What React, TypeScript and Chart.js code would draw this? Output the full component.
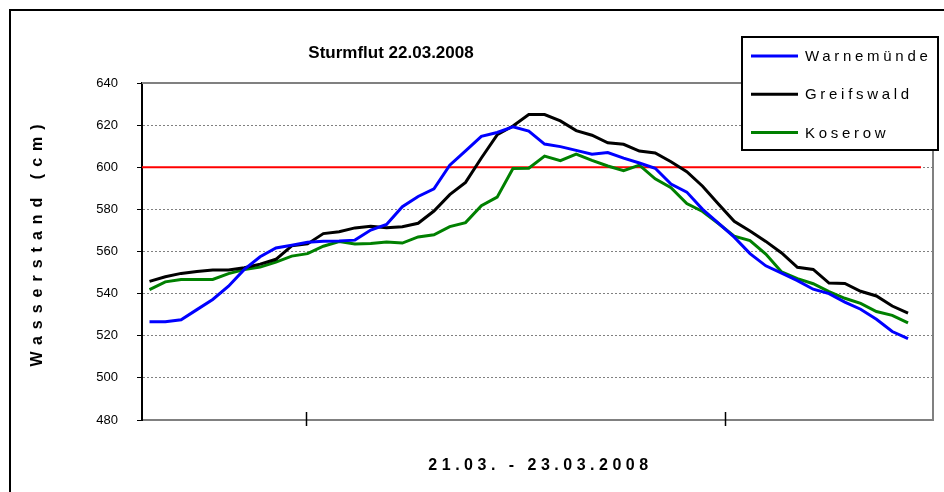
import React, { useEffect, useRef } from 'react';
import { Chart, registerables } from 'chart.js';

Chart.register(...registerables);

const FONT = '"Liberation Sans", Arial, Helvetica, sans-serif';

const TITLE = 'Sturmflut 22.03.2008';
const X_TITLE = '21.03. - 23.03.2008';
const Y_TITLE = 'Wasserstand (cm)';

const SERIES_NAMES = ['Warnemünde', 'Greifswald', 'Koserow'];
const SERIES_COLORS = ['#0000FF', '#000000', '#008000'];

const WARNEMUENDE = [
  526.7, 526.7, 527.6, 532.4, 537.2, 543.5, 551.5, 557.5, 561.7, 563,
  564.4, 564.9, 565, 565.4, 570.2, 572.8, 581.3, 586.1, 589.8, 601,
  607.8, 614.7, 616.5, 619.2, 617.2, 611, 609.8, 608, 606.2, 607,
  604.3, 602, 599.5, 592, 588.2, 580, 573.5, 566.8, 559, 553.2,
  549.7, 546.2, 542.1, 540, 536, 532.6, 527.8, 522, 518.6,
];
const GREIFSWALD = [
  545.8, 548, 549.6, 550.5, 551.2, 551.2, 552.3, 554, 556.3, 562.7,
  563.6, 568.5, 569.4, 571.2, 572, 571.3, 571.8, 573.4, 579.2, 587,
  592.8, 604.4, 615.4, 619.6, 625, 625, 622, 617.4, 615.2, 611.6,
  610.9, 607.7, 606.8, 602.6, 597.9, 591, 582.5, 574.3, 569.7, 564.8,
  559.3, 552.5, 551.5, 545, 544.8, 541.1, 538.9, 534.1, 530.7,
];
const KOSEROW = [
  541.9, 545.6, 546.7, 546.7, 546.7, 549.5, 551.4, 552.6, 555, 557.8,
  559, 562.5, 564.7, 563.6, 563.8, 564.5, 564, 566.9, 567.9, 571.8,
  573.7, 581.7, 585.8, 599.4, 599.5, 605.3, 603.1, 606.2, 603.3, 600.6,
  598.4, 601, 594.5, 590.3, 582.8, 579, 573.3, 567.3, 565.2, 558.8,
  550.3, 547.1, 544.7, 541, 537.8, 535.4, 531.5, 529.7, 526.1,
];
const SERIES_VALUES = [WARNEMUENDE, GREIFSWALD, KOSEROW];

const Y_MIN = 480;
const Y_MAX = 640;
const Y_STEP = 20;
const THRESHOLD = 600;
const THRESHOLD_END = 48.82;

const X_MIN = -0.475;
const X_MAX = 49.58;
const X_TICKS = [9.885, 36.42];

export default function App() {
  const ref = useRef<HTMLCanvasElement>(null);

  useEffect(() => {
    const canvas = ref.current;
    if (!canvas) return;

    const decor = {
      id: 'decor',
      beforeDatasetsDraw(chart: any) {
        const { ctx, chartArea } = chart;
        const xs = chart.scales.x;
        const ys = chart.scales.y;
        ctx.save();
        ctx.strokeStyle = '#808080';
        ctx.lineWidth = 2;
        ctx.beginPath();
        ctx.moveTo(chartArea.left, chartArea.top);
        ctx.lineTo(chartArea.right, chartArea.top);
        ctx.lineTo(chartArea.right, chartArea.bottom);
        ctx.stroke();
        const yT = ys.getPixelForValue(THRESHOLD);
        ctx.strokeStyle = '#FF0000';
        ctx.lineWidth = 2;
        ctx.beginPath();
        ctx.moveTo(chartArea.left, yT);
        ctx.lineTo(xs.getPixelForValue(THRESHOLD_END), yT);
        ctx.stroke();
        ctx.restore();
      },
      afterDraw(chart: any) {
        const { ctx, chartArea } = chart;
        const xs = chart.scales.x;
        ctx.save();
        ctx.strokeStyle = '#000';
        ctx.lineWidth = 2;
        ctx.strokeRect(10, 10, 950, 500);

        ctx.lineWidth = 1.5;
        X_TICKS.forEach((t) => {
          const px = Math.round(xs.getPixelForValue(t)) + 0.5;
          ctx.beginPath();
          ctx.moveTo(px, chartArea.bottom - 8);
          ctx.lineTo(px, chartArea.bottom + 6);
          ctx.stroke();
        });

        ctx.fillStyle = '#000';
        ctx.textBaseline = 'middle';
        ctx.textAlign = 'center';
        ctx.font = `bold 17px ${FONT}`;
        (ctx as any).letterSpacing = '0px';
        ctx.fillText(TITLE, 391, 53);

        ctx.font = `bold 16px ${FONT}`;
        (ctx as any).letterSpacing = '4.5px';
        ctx.fillText(X_TITLE, (chartArea.left + chartArea.right) / 2 + 3, 466);

        ctx.save();
        ctx.translate(38, 246);
        ctx.rotate(-Math.PI / 2);
        ctx.font = `bold 16px ${FONT}`;
        (ctx as any).letterSpacing = '7px';
        ctx.fillText(Y_TITLE, 4, 0);
        ctx.restore();

        const bx = 742, by = 37, bw = 196, bh = 113;
        ctx.fillStyle = '#fff';
        ctx.fillRect(bx, by, bw, bh);
        ctx.strokeStyle = '#000';
        ctx.lineWidth = 2;
        ctx.strokeRect(bx, by, bw, bh);
        ctx.textAlign = 'left';
        ctx.font = `15px ${FONT}`;
        (ctx as any).letterSpacing = '3.7px';
        SERIES_NAMES.forEach((name, i) => {
          const y = 56 + i * 38.3;
          ctx.strokeStyle = SERIES_COLORS[i];
          ctx.lineWidth = 3;
          ctx.beginPath();
          ctx.moveTo(751, y);
          ctx.lineTo(798, y);
          ctx.stroke();
          ctx.fillStyle = '#000';
          ctx.fillText(name, 805, y + 1);
        });
        (ctx as any).letterSpacing = '0px';
        ctx.restore();
      },
    };

    const chart = new Chart(canvas, {
      type: 'line',
      data: {
        datasets: SERIES_NAMES.map((name, i) => ({
          label: name,
          data: SERIES_VALUES[i].map((v, k) => ({ x: k, y: v })),
          borderColor: SERIES_COLORS[i],
          backgroundColor: SERIES_COLORS[i],
          borderWidth: 3,
          pointRadius: 0,
          tension: 0,
          fill: false,
        })),
      },
      options: {
        responsive: false,
        animation: false,
        devicePixelRatio: 1,
        layout: { padding: { left: 0, right: 11, top: 83, bottom: 0 } },
        plugins: {
          legend: { display: false },
          title: { display: false },
          tooltip: { enabled: false },
        },
        scales: {
          x: {
            type: 'linear',
            min: X_MIN,
            max: X_MAX,
            ticks: { display: false },
            grid: { display: false, drawTicks: false },
            border: { display: true, color: '#808080', width: 2 },
            afterFit: (s: any) => {
              s.height = 72;
            },
          },
          y: {
            min: Y_MIN,
            max: Y_MAX,
            ticks: {
              stepSize: Y_STEP,
              color: '#000',
              padding: 19,
              font: { family: FONT, size: 13 },
            },
            grid: {
              color: '#808080',
              lineWidth: 1,
              tickColor: '#000',
              tickLength: 5,
              tickWidth: 1,
            },
            border: { display: true, color: '#000', width: 2, dash: [2, 2] },
            afterFit: (s: any) => {
              s.width = 142;
            },
          },
        },
      },
      plugins: [decor],
    });

    return () => chart.destroy();
  }, []);

  return (
    <div style={{ position: 'absolute', left: 0, top: 0, width: 944, height: 492, background: '#fff' }}>
      <canvas ref={ref} width={944} height={492} style={{ display: 'block', width: 944, height: 492 }} />
    </div>
  );
}
